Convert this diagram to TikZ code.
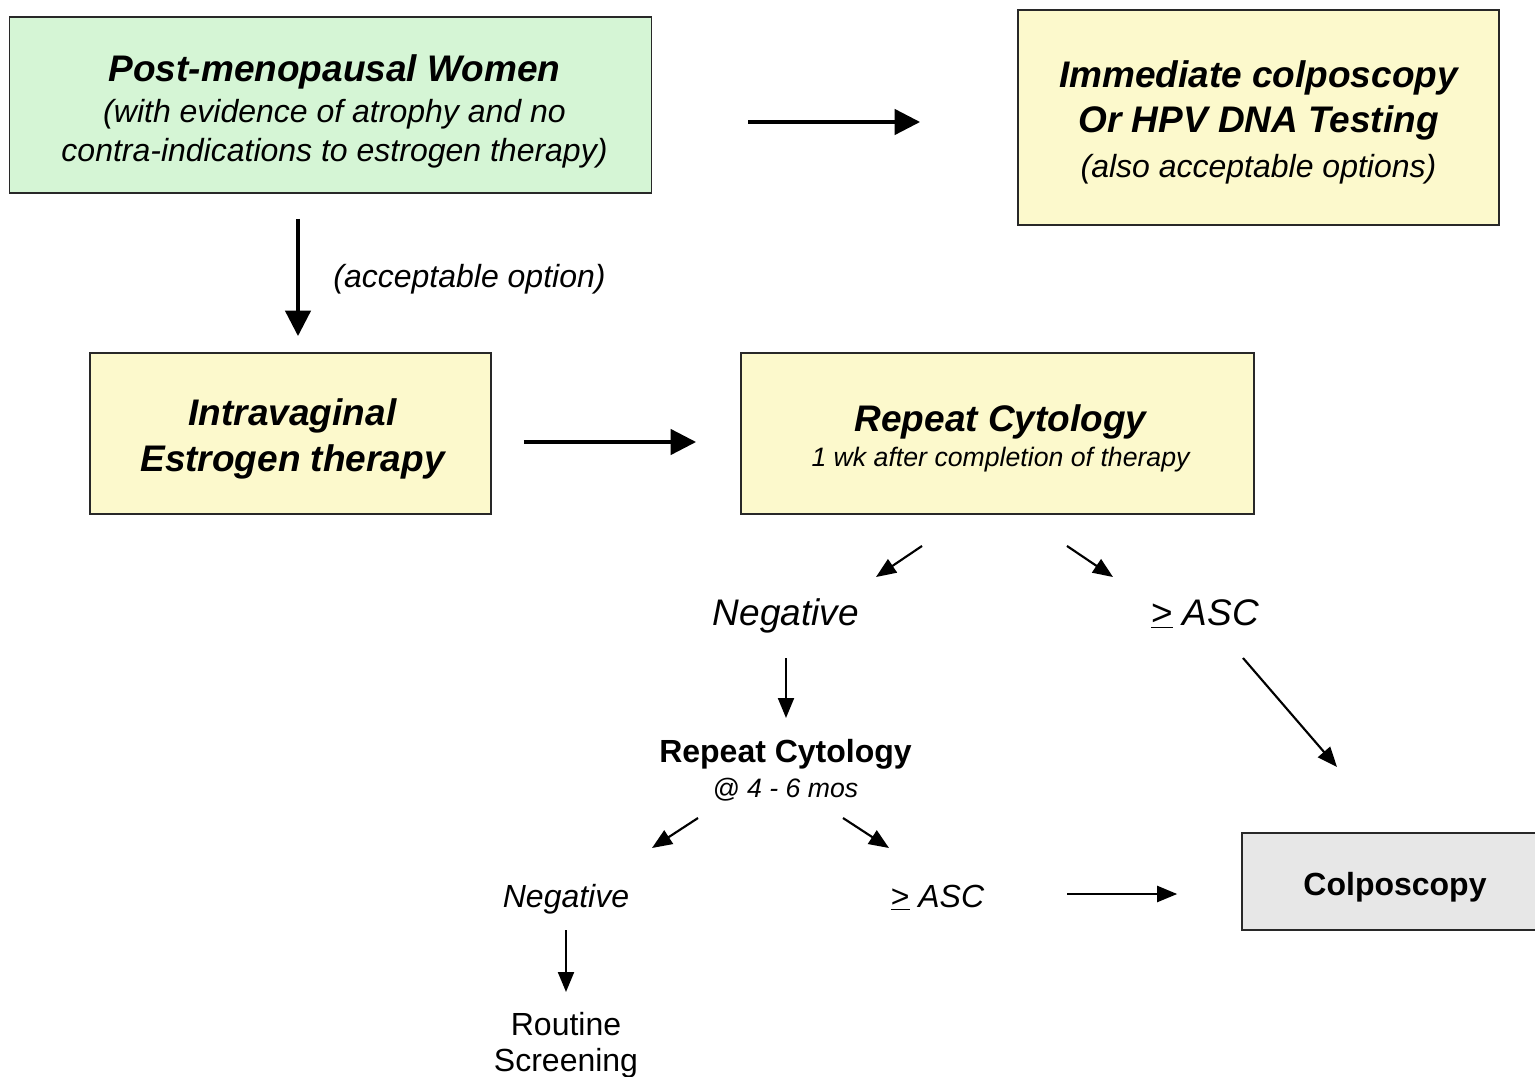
\documentclass[tikz,border=0pt]{standalone}
\usepackage{fontspec}
\setmainfont{Liberation Sans}
\definecolor{verde}{RGB}{213, 245, 213}
\definecolor{amarillo}{RGB}{252, 249, 204}
\definecolor{gris}{RGB}{231, 231, 231}
\definecolor{borde}{RGB}{40, 40, 40}
\usetikzlibrary{arrows.meta}
\usetikzlibrary{positioning}
\usetikzlibrary{calc}

\newcommand{\bigtxt}{\fontsize{27.75}{33.75}\selectfont}
\newcommand{\medtxt}{\fontsize{24}{29.25}\selectfont}
\newcommand{\smalltxt}{\fontsize{20}{24}\selectfont}
\newcommand{\geasc}{\underline{\upshape >} ASC}

\tikzset{
    box/.style={draw=borde, line width=1.2pt, inner sep=0pt},
    label/.style={inner sep=0pt, align=center},
    bigarr/.style={-{Triangle[length=19pt, width=19pt]}, line width=2.4pt},
    arr/.style={-{Triangle[length=15pt, width=12pt]}, line width=1.6pt}
}

\begin{document}
\begin{tikzpicture}[x=0.75pt, y=-0.75pt]
    \useasboundingbox (0,0) rectangle (1535,1077);

    % Boxes
    \node[box, fill=verde, minimum width=481.5pt, minimum height=132pt] (women) at (330.5,105) {};
    \node[box, fill=amarillo, minimum width=361pt, minimum height=161pt] (immediate) at (1258.5,117.5) {};
    \node[box, fill=amarillo, minimum width=301pt, minimum height=121pt] (estrogen) at (290.5,433.5) {};
    \node[box, fill=amarillo, minimum width=385pt, minimum height=121pt] (repeat) at (997.5,433.5) {};
    \node[box, fill=gris, minimum width=229.5pt, minimum height=73pt] (colpo) at (1395,881.5) {};

    % Box texts
    \node[label, font=\medtxt] (womentext) at ($(women)+(4,6)$)
        {{\bigtxt\bfseries\itshape Post-menopausal Women}\\[1.5pt]
         \itshape (with evidence of atrophy and no\\
         \itshape contra-indications to estrogen therapy)};
    \node[label, font=\bigtxt] (immediatetext) at ($(immediate)+(0,5)$)
        {\bfseries\itshape Immediate colposcopy\\
         \bfseries\itshape Or HPV DNA Testing\\
         {\medtxt\itshape (also acceptable options)}};
    \node[label, font=\fontsize{27.75}{34.5}\selectfont] (estrogentext) at ($(estrogen)+(2,5)$)
        {\bfseries\itshape Intravaginal\\
         \bfseries\itshape Estrogen therapy};
    \node[label, font=\fontsize{27.75}{29.25}\selectfont] (repeattext) at ($(repeat)+(3,5)$)
        {\bfseries\itshape Repeat Cytology\\[-3pt]
         {\smalltxt\itshape 1 wk after completion of therapy}};
    \node[label, font=\medtxt\bfseries] (colpotext) at ($(colpo)+(0,6)$) {Colposcopy};

    % Results
    \node[label, font=\medtxt\itshape] (option) at (469.5,279) {(acceptable option)};
    \node[label, font=\bigtxt\itshape] (neg1) at (786,616) {Negative};
    \node[label, font=\bigtxt\itshape] (asc1) at (1205,614) {\geasc};
    \node[label, font=\fontsize{24}{26.25}\selectfont] (repeat2) at (785.5,770)
        {\bfseries Repeat Cytology\\ {\smalltxt\itshape @ 4 - 6 mos}};
    \node[label, font=\medtxt\itshape] (neg2) at (566,899) {Negative};
    \node[label, font=\medtxt\itshape] (asc2) at (937.5,898) {\geasc};
    \node[label, font=\fontsize{24}{27}\selectfont] (routine) at (566,1045) {Routine\\ Screening};

    % Arrows
    \draw[bigarr] ($(women.east)+(96,17)$) -- ($(immediate.west)+(-97,4.5)$);
    \draw[bigarr] ($(women.south)+(-32.5,25)$) -- ($(estrogen.north)+(7.5,-16)$);
    \draw[bigarr] ($(estrogen.east)+(32,8.5)$) -- ($(repeat.west)+(-44,8.5)$);

    \draw[arr] ($(repeat.south)+(-75.5,31)$) -- ($(neg1)+(90,-39)$);
    \draw[arr] ($(repeat.south)+(69.5,31)$) -- ($(asc1)+(-92,-37)$);
    \draw[arr] ($(asc1)+(38,44)$) -- ($(colpo.north)+(-58,-65)$);
    \draw[arr] ($(neg1)+(0,42)$) -- ($(repeat2)+(0.5,-52)$);
    \draw[arr] ($(repeat2)+(-87.5,48)$) -- ($(neg2)+(86,-51)$);
    \draw[arr] ($(repeat2)+(57.5,48)$) -- ($(asc2)+(-48.5,-50)$);
    \draw[arr] ($(neg2)+(0,31)$) -- ($(routine)+(0,-53)$);
    \draw[arr] ($(asc2)+(129.5,-4)$) -- ($(colpo.west)+(-64,12.5)$);
\end{tikzpicture}
\end{document}
